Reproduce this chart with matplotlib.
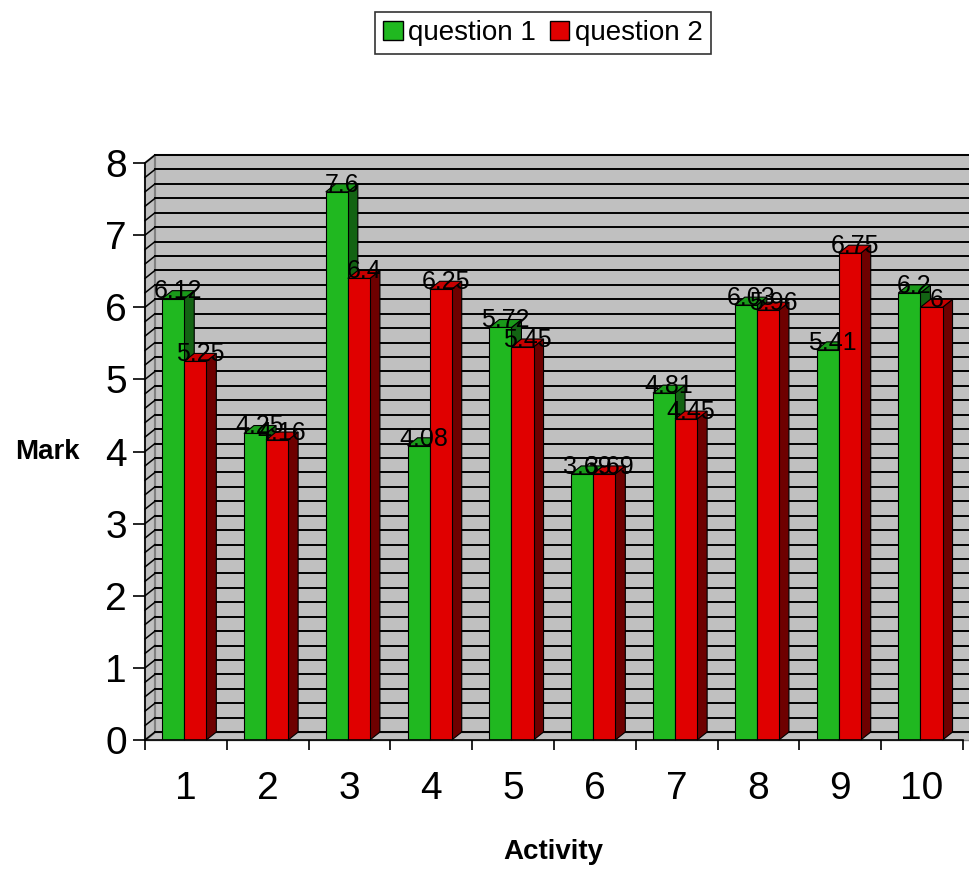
import matplotlib.pyplot as plt
from matplotlib.patches import Polygon, Patch

plt.rcParams['font.family'] = ['Liberation Sans', 'DejaVu Sans']

activities = [1, 2, 3, 4, 5, 6, 7, 8, 9, 10]
question1 = [6.12, 4.25, 7.6, 4.08, 5.72, 3.69, 4.81, 6.03, 5.41, 6.2]
question2 = [5.25, 4.16, 6.4, 6.25, 5.45, 3.69, 4.45, 5.96, 6.75, 6]
labels1 = ["6.12", "4.25", "7.6", "4.08", "5.72", "3.69", "4.81", "6.03", "5.41", "6.2"]
labels2 = ["5.25", "4.16", "6.4", "6.25", "5.45", "3.69", "4.45", "5.96", "6.75", "6"]

green = "#20B820"
red = "#E00000"
green_side = "#136313"
red_side = "#6E0000"
green_top = "#1A9A1A"
red_top = "#C80000"
wall = "#C0C0C0"

fig = plt.figure(figsize=(9.69, 8.69), dpi=100)
ax = fig.add_axes([145/969, 129/869, 818/969, 577/869])
ax.set_xlim(0.5, 10.5)
ax.set_ylim(0, 8)

# depth of the pseudo 3d effect, in data units
dx = 0.122
dy = 0.11

# walls and floor
ax.add_patch(Polygon([(0.5+dx, dy), (11.5, dy), (11.5, 8+dy), (0.5+dx, 8+dy)],
                     closed=True, fc=wall, ec="#808080", lw=1.5, clip_on=False, zorder=0))
ax.add_patch(Polygon([(0.5, 0), (0.5+dx, dy), (0.5+dx, 8+dy), (0.5, 8)],
                     closed=True, fc=wall, ec="#808080", lw=1.5, clip_on=False, zorder=0))
ax.add_patch(Polygon([(0.5, 0), (11.5, 0), (11.5, dy), (0.5+dx, dy)],
                     closed=True, fc=wall, ec="#808080", lw=1, clip_on=False, zorder=0))
for k in range(41):
    y = k*0.2
    ax.plot([0.5+dx, 11.5], [y+dy, y+dy], color="black", lw=1.4, zorder=1, clip_on=False)
    ax.plot([0.5, 0.5+dx], [y, y+dy], color="black", lw=1.1, zorder=1, clip_on=False)

w = 0.27
z = 2
for i, (a, v1, v2) in enumerate(zip(activities, question1, question2)):
    for x0, v, fc, sc, tc, lab in [(a-0.29, v1, green, green_side, green_top, labels1[i]),
                                   (a-0.02, v2, red, red_side, red_top, labels2[i])]:
        x1 = x0 + w
        ax.add_patch(Polygon([(x1, 0), (x1+dx, dy), (x1+dx, v+dy), (x1, v)],
                             closed=True, fc=sc, ec="black", lw=0.8, zorder=z, clip_on=False))
        ax.add_patch(Polygon([(x0, v), (x1, v), (x1+dx, v+dy), (x0+dx, v+dy)],
                             closed=True, fc=tc, ec="black", lw=0.8, zorder=z, clip_on=False))
        ax.bar(x0, v, width=w, align="edge", color=fc, edgecolor="black", lw=0.8, zorder=z)
        ax.text(x0 + w/2 + dx/2, v + 0.1, lab, ha="center", va="center", fontsize=18, zorder=50)
        z += 1

for s in ["top", "right"]:
    ax.spines[s].set_visible(False)
ax.spines["left"].set_linewidth(1.2)
ax.spines["bottom"].set_linewidth(1.2)
ax.spines["left"].set_zorder(40)
ax.spines["bottom"].set_zorder(40)

ax.set_yticks(range(9))
ax.tick_params(axis="y", labelsize=28, length=9, width=1.2, pad=4, direction="out")
ax.set_xticks([a - 0.5 for a in activities] + [10.5])
ax.set_xticklabels([])
ax.set_xticks(activities, minor=True)
ax.set_xticklabels([str(a) for a in activities], minor=True)
ax.tick_params(axis="x", which="major", length=7, width=1.2, direction="out")
ax.tick_params(axis="x", which="minor", length=0, labelsize=28, pad=22)
ax.set_facecolor("white")

fig.text(15/969, 1-452/869, "Mark", fontsize=20, fontweight="bold", ha="left", va="center")
fig.text(553/969, 1-852/869, "Activity", fontsize=20, fontweight="bold", ha="center", va="center")

handles = [Patch(fc=green, ec="black", label="question 1"),
           Patch(fc=red, ec="black", label="question 2")]
leg = fig.legend(handles=handles, loc="center", bbox_to_anchor=(543/969, 1-33/869), ncol=2,
                 fontsize=20, frameon=True, fancybox=False, edgecolor="black",
                 handlelength=0.7, handleheight=0.7, handletextpad=0.2, columnspacing=0.5,
                 borderpad=0.3)
leg.get_frame().set_linewidth(1.2)

fig.savefig("out.png", dpi=100)
